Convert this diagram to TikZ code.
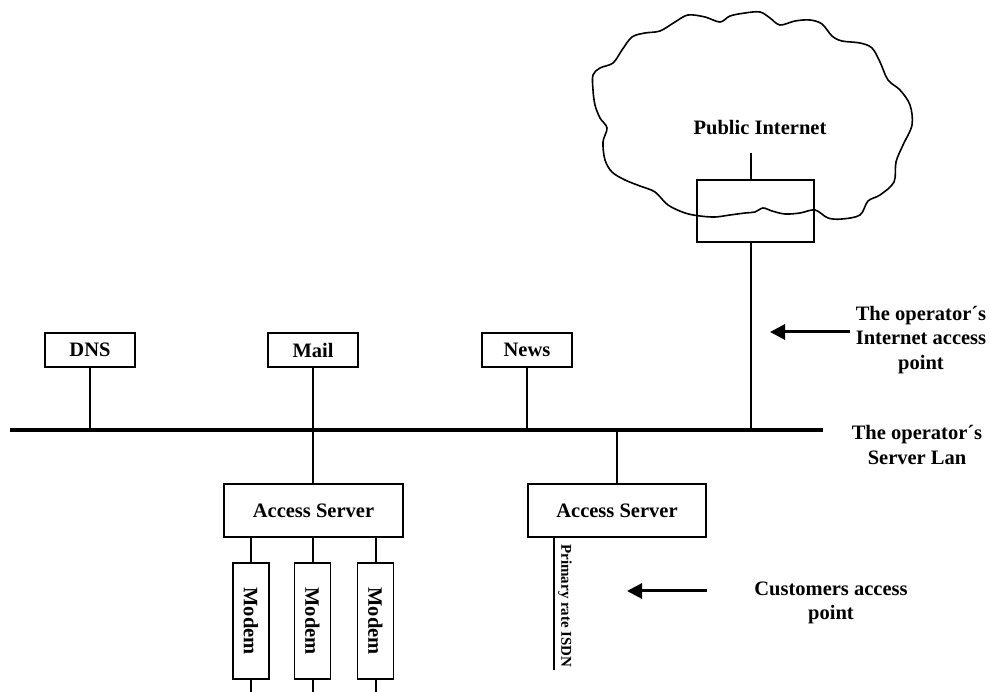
\documentclass[tikz,border=0pt]{standalone}
\usepackage{fontspec}
\setmainfont{Liberation Serif}
\usetikzlibrary{arrows.meta}
\begin{document}
\begin{tikzpicture}[x=1pt,y=-1pt,
  txt/.style={font=\bfseries\fontsize{20.5}{24.5}\selectfont, align=center, inner sep=0pt},
  box/.style={draw, line width=1.6pt, inner sep=0pt, font=\bfseries\fontsize{20.5}{24.5}\selectfont},
  srv/.style={box, minimum width=90pt, minimum height=34pt},
  acc/.style={box, minimum width=179pt, minimum height=53pt},
  modem/.style={box, minimum width=116pt, minimum height=36pt, rotate=-90},
  wire/.style={line width=1.6pt},
  lan/.style={line width=3.6pt},
  arr/.style={line width=3pt, -{Triangle[length=15pt,width=15pt]}}
]
\useasboundingbox (0,0) rectangle (989,692);

% cloud
\draw[line width=1.6pt] plot[smooth cycle, tension=0.55] coordinates {
(593,75) (600,68) (613,63) (622,50) (632,37) (645,33) (660,31) (675,22) (688,15)
(705,17) (720,22) (730,16) (745,13) (760,12) (770,18) (780,25) (795,21) (810,20)
(822,24) (832,36) (842,41) (860,43) (872,48) (880,62) (888,80) (900,90) (910,105)
(912,125) (903,145) (896,162) (894,182) (880,195) (868,201) (860,215) (842,219)
(828,218) (815,210) (800,213) (785,214) (772,211) (763,208) (755,212) (745,213)
(730,215) (715,217) (700,216) (685,213) (668,205) (655,192) (640,186) (625,180)
(612,172) (605,160) (603,142) (607,128) (600,118) (595,105) (593,90)};
\node[txt] (pi) at (760,128) {Public Internet};

% gateway box
\node[box, minimum width=117pt, minimum height=62pt] (gw) at (755.5,211) {};
\coordinate (gwtop) at (751,153);

% LAN
\coordinate (lanL) at (10,430);
\coordinate (lanR) at (823,430);
\draw[lan] (lanL) -- (lanR);

% servers
\node[srv] (dns) at (90,350) {DNS};
\node[srv] (mail) at (313,350) {Mail};
\node[srv] (news) at (527,350) {News};

\node[acc] (as1) at (313.5,510.5) {Access Server};
\node[acc, minimum width=178pt] (as2) at (617,510.5) {Access Server};

\node[modem] (m1) at (251,621) {Modem};
\node[modem] (m2) at (312.5,621) {Modem};
\node[modem] (m3) at (375.5,621) {Modem};

% connectors
\draw[wire] (gwtop) -- (gwtop |- gw.north);
\draw[wire] (gw.south -| gwtop) -- (gwtop |- lanL);
\draw[wire] (dns.south) -- (dns.south |- lanL);
\draw[wire] (news.south) -- (news.south |- lanL);
\draw[wire] (mail.south) -- (as1.north -| mail.south);
\draw[wire] (as2.north) -- (as2.north |- lanL);

\coordinate (bot) at (0,692);
\foreach \m/\x in {m1/251,m2/313,m3/376}{
  \draw[wire] (as1.south -| \x,0) -- (\m.west -| \x,0);
  \draw[wire] (\m.east -| \x,0) -- (\x,692);
}

% ISDN
\coordinate (isdnEnd) at (554,670);
\draw[wire] (as2.south -| isdnEnd) -- (isdnEnd);
\node[txt, font=\bfseries\fontsize{15}{18}\selectfont, rotate=-90] (isdn) at (565,606) {Primary rate ISDN};

% labels and arrows
\node[txt] (iap) at (921,340) {The operator´s\\Internet access\\point};
\node[txt] (lanlab) at (917,445) {The operator´s\\Server Lan};
\node[txt] (cap) at (831,603) {Customers access\\point};

\coordinate (a1s) at (850,332);
\coordinate (a1e) at (770,332);
\draw[arr] (a1s) -- (a1e);
\coordinate (a2s) at (707,591);
\coordinate (a2e) at (627,591);
\draw[arr] (a2s) -- (a2e);
\end{tikzpicture}
\end{document}
